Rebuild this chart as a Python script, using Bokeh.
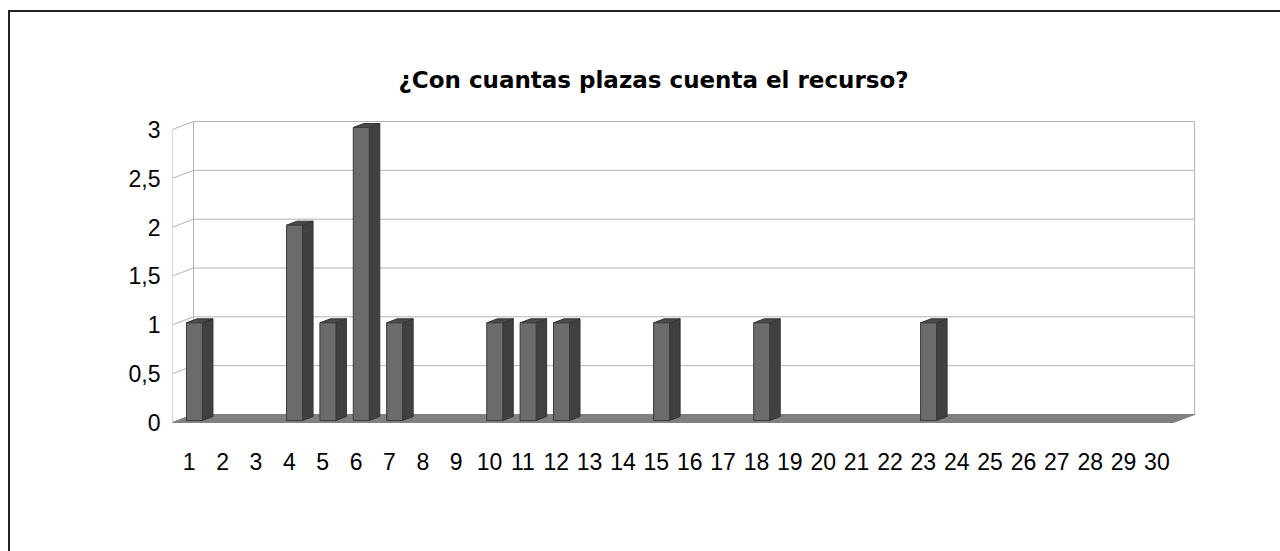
from bokeh.plotting import figure
from bokeh.models import Range1d, FixedTicker, Title
from bokeh.embed import file_html
from bokeh.resources import INLINE

# ---- data ----
categories = [str(i) for i in range(1, 31)]
values = [1, 0, 0, 2, 1, 3, 1, 0, 0, 1,
          1, 1, 0, 0, 1, 0, 0, 1, 0, 0,
          0, 0, 1, 0, 0, 0, 0, 0, 0, 0]
y_ticks = [0, 0.5, 1, 1.5, 2, 2.5, 3]
y_tick_labels = ["0", "0,5", "1", "1,5", "2", "2,5", "3"]
title_text = "¿Con cuantas plazas cuenta el recurso?"

# ---- layout constants (pixels) ----
W, H = 1280, 551
PX_CAT = 33.37          # px per category on the front edge
PX_UNIT = 97.67         # px per value unit
DEPTH_X, DEPTH_Y = 21.0, 8.0   # depth offset in px
LEFT, RIGHT, TOP, BOTTOM = 172, 80, 113, 127
FRAME_W = W - LEFT - RIGHT
FRAME_H = H - TOP - BOTTOM
Y_PAD = 2.0  # px below value 0 on the front edge

DX = DEPTH_X / PX_CAT
DY = DEPTH_Y / PX_UNIT
n = len(categories)
ymax = max(y_ticks)

y0 = -Y_PAD / PX_UNIT
p = figure(width=W, height=H, output_backend="svg", toolbar_location=None,
           x_range=Range1d(0, FRAME_W / PX_CAT),
           y_range=Range1d(y0, y0 + FRAME_H / PX_UNIT),
           min_border_left=LEFT, min_border_right=RIGHT,
           min_border_top=TOP, min_border_bottom=BOTTOM)
p.border_fill_color = None
p.background_fill_color = None
p.outline_line_color = None
p.grid.visible = False
p.styles = {
    "background-color": "#ffffff",
    "background-image": "linear-gradient(#222222,#222222), linear-gradient(#222222,#222222)",
    "background-size": "100% 2px, 2px 100%",
    "background-position": "8px 10px, 8px 10px",
    "background-repeat": "no-repeat",
}

GRID = "#b3b3b3"
# back wall gridlines
gx0 = [DX] * len(y_ticks)
gx1 = [n + DX] * len(y_ticks)
gy = [v + DY for v in y_ticks]
p.segment(x0=gx0, y0=gy, x1=gx1, y1=gy, line_color=GRID, line_width=1)
# back wall vertical edges
p.segment(x0=[DX, n + DX], y0=[DY, DY], x1=[DX, n + DX], y1=[ymax + DY, ymax + DY],
          line_color=GRID, line_width=1)
# left wall: front vertical edge and diagonal ticks
p.segment(x0=[0], y0=[0], x1=[0], y1=[ymax], line_color=GRID, line_width=1)
p.segment(x0=[0] * len(y_ticks), y0=y_ticks, x1=[DX] * len(y_ticks), y1=gy,
          line_color=GRID, line_width=1)

# floor
p.patch(x=[0, n, n + DX, DX], y=[0, 0, DY, DY], fill_color="#808080",
        line_color="#808080", line_width=1)

# bars
HW = 0.24
d0, d1 = 0.25, 0.75
fl, fr, fb, ft = [], [], [], []
side_xs, side_ys, top_xs, top_ys = [], [], [], []
for i, v in enumerate(values):
    if v <= 0:
        continue
    c = i + 0.5
    xl = c - HW + d0 * DX
    xr = c + HW + d0 * DX
    fl.append(xl); fr.append(xr); fb.append(d0 * DY); ft.append(v + d0 * DY)
    side_xs.append([xr, xr + (d1 - d0) * DX, xr + (d1 - d0) * DX, xr])
    side_ys.append([d0 * DY, d1 * DY, v + d1 * DY, v + d0 * DY])
    top_xs.append([xl, xr, xr + (d1 - d0) * DX, xl + (d1 - d0) * DX])
    top_ys.append([v + d0 * DY, v + d0 * DY, v + d1 * DY, v + d1 * DY])

p.patches(xs=side_xs, ys=side_ys, fill_color="#404040", line_color="#333333", line_width=1)
p.patches(xs=top_xs, ys=top_ys, fill_color="#4a4a4a", line_color="#333333", line_width=1)
p.quad(left=fl, right=fr, bottom=fb, top=ft, fill_color="#6b6b6b",
       line_color="#3a3a3a", line_width=1)

# axes
FONT = "Liberation Sans"
p.yaxis.ticker = FixedTicker(ticks=y_ticks)
p.yaxis.major_label_overrides = {t: l for t, l in zip(y_ticks, y_tick_labels)}
x_ticks = [i + 0.5 for i in range(n)]
p.xaxis.ticker = FixedTicker(ticks=x_ticks)
p.xaxis.major_label_overrides = {t: l for t, l in zip(x_ticks, categories)}
for ax in (p.xaxis, p.yaxis):
    ax.axis_line_color = None
    ax.major_tick_line_color = None
    ax.minor_tick_line_color = None
    ax.major_tick_out = 0
    ax.major_tick_in = 0
    ax.major_label_text_font = FONT
    ax.major_label_text_font_size = "23px"
    ax.major_label_text_color = "#000000"
p.yaxis.major_label_standoff = 12
p.xaxis.major_label_standoff = 28

p.title = Title(text=title_text, align="left", text_font="DejaVu Sans",
                text_font_style="bold", text_font_size="23px",
                text_color="#000000", offset=226, standoff=42)

open("out.html", "w").write(file_html(p, INLINE))
